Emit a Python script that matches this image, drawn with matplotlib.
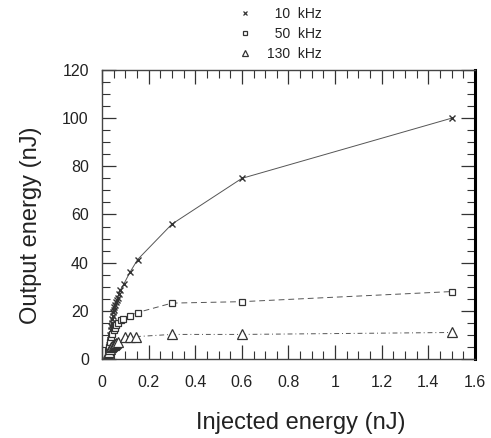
import matplotlib
matplotlib.use("Agg")
import matplotlib.pyplot as plt
from matplotlib.ticker import MultipleLocator

plt.rcParams["font.family"] = ["Liberation Sans", "DejaVu Sans"]

# 10 kHz
x10 = [0.028, 0.030, 0.032, 0.034, 0.036, 0.038, 0.040, 0.042, 0.044, 0.046,
       0.048, 0.050, 0.053, 0.056, 0.060, 0.064, 0.068, 0.073, 0.078, 0.093,
       0.12, 0.153, 0.3, 0.6, 1.5]
y10 = [2.5, 4, 6, 8, 10, 12, 13.5, 15, 16.5, 18,
       19.5, 20.5, 21.5, 22.5, 23.5, 24.5, 25.5, 27, 28.5, 31,
       36, 41.3, 56, 75, 100]

# 50 kHz
x50 = [0.026, 0.030, 0.035, 0.040, 0.045, 0.050, 0.055, 0.060, 0.068, 0.08,
       0.092, 0.12, 0.153, 0.3, 0.6, 1.5]
y50 = [3.5, 5, 7, 9, 10.5, 12, 13, 14, 15, 16,
       16.8, 18, 19.3, 23.2, 23.8, 28]

# 130 kHz
x130 = [0.025, 0.030, 0.035, 0.040, 0.045, 0.050, 0.055, 0.060, 0.070, 0.097,
        0.122, 0.148, 0.3, 0.6, 1.5]
y130 = [2.5, 3, 4, 5, 5.5, 6, 6.3, 6.5, 7, 9,
        9.3, 9.3, 10.2, 10.2, 11]

labels = ["  10  kHz", "  50  kHz", "130  kHz"]

fig = plt.figure(figsize=(4.91, 4.38), dpi=100)
ax = fig.add_axes([0.2077, 0.1804, 0.7597, 0.6598])

c = "#333333"
ax.plot(x10, y10, ls="-", lw=0.7, color="#555555", marker="x",
        ms=5, mew=1.0, mec=c)
ax.plot(x50, y50, ls=(0, (6, 4)), lw=0.7, color="#555555", marker="s",
        ms=5, mew=0.9, mec=c, mfc="white")
ax.plot(x130, y130, ls=(0, (5, 3, 1, 3)), lw=0.7, color="#555555",
        marker="^", ms=6.5, mew=0.9, mec=c, mfc="white")

ax.set_xlim(0, 1.6)
ax.set_ylim(0, 120)
ax.xaxis.set_minor_locator(MultipleLocator(0.05))
ax.yaxis.set_major_locator(MultipleLocator(20))
ax.yaxis.set_minor_locator(MultipleLocator(5))
ax.set_xticks([0, 0.2, 0.4, 0.6, 0.8, 1.0, 1.2, 1.4, 1.6])
ax.set_xticklabels(["0", "0.2", "0.4", "0.6", "0.8", "1", "1.2", "1.4", "1.6"])

ax.tick_params(which="both", direction="in", top=True, right=True,
               colors="#333333", labelcolor="#222222")
ax.tick_params(which="major", length=10, width=0.9, labelsize=11.5)
ax.tick_params(which="minor", length=5.5, width=0.8)
ax.tick_params(axis="x", which="major", pad=11.5)
ax.tick_params(axis="y", which="major", pad=9.5)

for s in ["left", "bottom", "top"]:
    ax.spines[s].set_linewidth(1.0)
    ax.spines[s].set_color("#444444")
ax.spines["right"].set_linewidth(2.2)
ax.spines["right"].set_color("black")

ax.set_xlabel("Injected energy (nJ)", fontsize=17, color="#222222")
ax.set_ylabel("Output energy (nJ)", fontsize=17, color="#222222")
ax.xaxis.set_label_coords(0.534, -0.183)
ax.yaxis.set_label_coords(-0.161, 0.464)

h1, = ax.plot([], [], ls="none", marker="x", ms=3.5, mew=0.9, mec=c)
h2, = ax.plot([], [], ls="none", marker="s", ms=3.5, mew=0.9, mec=c, mfc="white")
h3, = ax.plot([], [], ls="none", marker="^", ms=4.5, mew=0.9, mec=c, mfc="white")
fig.legend([h1, h2, h3], labels, loc="upper left",
           bbox_to_anchor=(0.4847, 0.984), borderaxespad=0, borderpad=0,
           frameon=False, fontsize=10, handlelength=1.0, handletextpad=1.1,
           labelspacing=0.42, labelcolor="#222222")

fig.savefig("out.png", dpi=100)
